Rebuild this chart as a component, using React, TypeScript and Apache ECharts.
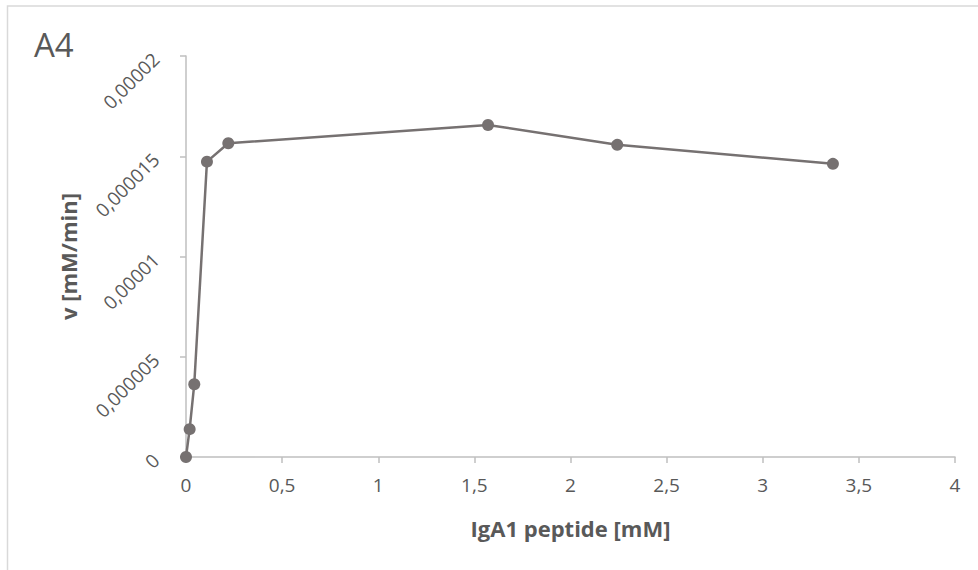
import React, { useEffect, useRef } from "react";
import * as echarts from "echarts";

const xValues = [0, 0.019, 0.043, 0.109, 0.22, 1.571, 2.243, 3.365];
const yValues = [0, 0.00000139, 0.00000363, 0.00001473, 0.00001565, 0.00001656, 0.00001557, 0.00001462];
const xTickLabels: Record<string, string> = { "0": "0", "0.5": "0,5", "1": "1", "1.5": "1,5", "2": "2", "2.5": "2,5", "3": "3", "3.5": "3,5", "4": "4" };
const yTickLabels = ["0", "0,000005", "0,00001", "0,000015", "0,00002"];

const FONT = "'Open Sans', 'Noto Sans', sans-serif";
const TEXT = "#595959";

export default function App() {
  const ref = useRef<HTMLDivElement>(null);
  useEffect(() => {
    if (!ref.current) return;
    const chart = echarts.init(ref.current, undefined, { renderer: "svg" });
    const data = xValues.map((x, i) => [x, yValues[i]]);
    chart.setOption({
      animation: false,
      backgroundColor: "#ffffff",
      graphic: [
        {
          type: "rect",
          shape: { x: 7.5, y: 6, width: 1000, height: 600 },
          style: { fill: "none", stroke: "#d9d9d9", lineWidth: 1.5 },
          silent: true,
        },
        {
          type: "text",
          left: 34,
          top: 28,
          style: { text: "A4", fontSize: 33, fontFamily: FONT, fill: TEXT },
        },
      ],
      grid: { left: 186, right: 23, top: 56, bottom: 113, containLabel: false },
      xAxis: {
        type: "value",
        min: 0,
        max: 4,
        interval: 0.5,
        name: "IgA1 peptide [mM]",
        nameLocation: "middle",
        nameGap: 60,
        nameTextStyle: { fontSize: 22, fontWeight: "bold", color: TEXT, fontFamily: FONT },
        axisLine: { show: true, lineStyle: { color: "#bfbfbf", width: 1.5 } },
        axisTick: { show: true, length: 6, lineStyle: { color: "#bfbfbf", width: 1.5 } },
        splitLine: { show: false },
        axisLabel: {
          fontSize: 19,
          color: TEXT,
          fontFamily: FONT,
          margin: 18,
          formatter: (v: number) => xTickLabels[String(v)] ?? String(v),
        },
      },
      yAxis: {
        type: "value",
        min: 0,
        max: 0.00002,
        interval: 0.000005,
        name: "v [mM/min]",
        nameLocation: "middle",
        nameGap: 107,
        nameRotate: 90,
        nameTextStyle: { fontSize: 22, fontWeight: "bold", color: TEXT, fontFamily: FONT },
        axisLine: { show: true, lineStyle: { color: "#bfbfbf", width: 1.5 } },
        axisTick: { show: true, length: 6, lineStyle: { color: "#bfbfbf", width: 1.5 } },
        splitLine: { show: false },
        axisLabel: {
          fontSize: 19,
          color: TEXT,
          fontFamily: FONT,
          rotate: 45,
          margin: 30,
          formatter: (v: number) => yTickLabels[Math.round(v / 0.000005)] ?? String(v),
        },
      },
      series: [
        {
          type: "line",
          data,
          symbol: "circle",
          symbolSize: 12,
          itemStyle: { color: "#767171" },
          lineStyle: { color: "#767171", width: 2.5 },
        },
      ],
    });
    return () => chart.dispose();
  }, []);
  return <div ref={ref} style={{ width: 978, height: 570, position: "absolute", left: 0, top: 0 }} />;
}
